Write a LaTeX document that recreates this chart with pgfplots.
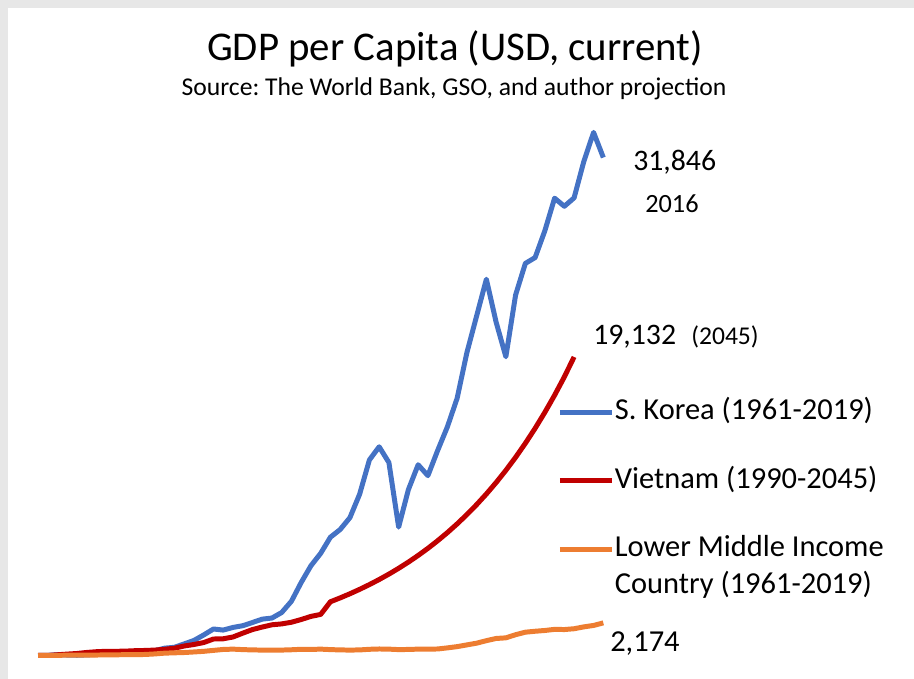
\documentclass[border=0pt]{standalone}
\usepackage{pgfplots}
\pgfplotsset{compat=1.18}
\usepackage{pgfplotstable}
\usepackage{fontspec}
\setmainfont{Carlito}
\frenchspacing
\definecolor{krblue}{HTML}{4472C4}
\definecolor{vnred}{HTML}{C00000}
\definecolor{lmorange}{HTML}{ED7D31}
\definecolor{framegrey}{HTML}{E7E7E7}

\pgfplotstableread{
year gdp
1961 94
1962 106
1963 146
1964 124
1965 109
1966 133
1967 161
1968 198
1969 243
1970 279
1971 301
1972 324
1973 406
1974 563
1975 617
1976 834
1977 1055
1978 1405
1979 1784
1980 1715
1981 1883
1982 1993
1983 2199
1984 2413
1985 2482
1986 2835
1987 3555
1988 4749
1989 5817
1990 6610
1991 7637
1992 8127
1993 8885
1994 10385
1995 12565
1996 13403
1997 12398
1998 8282
1999 10672
2000 12257
2001 11561
2002 13165
2003 14673
2004 16496
2005 19403
2006 21743
2007 24086
2008 21350
2009 19144
2010 23087
2011 25096
2012 25467
2013 27178
2014 29253
2015 28737
2016 29274
2017 31601
2018 33447
2019 31846
}\korea

\pgfplotstableread{
year gdp
1990 95
1991 98
1992 141
1993 184
1994 223
1995 288
1996 337
1997 361
1998 361
1999 374
2000 402
2001 416
2002 440
2003 492
2004 559
2005 700
2006 796
2007 920
2008 1145
2009 1160
2010 1273
2011 1517
2012 1749
2013 1908
2014 2052
2015 2109
2016 2215
2017 2389
2018 2587
2019 2715
2020 3521
2021 3767
2022 4031
2023 4313
2024 4615
2025 4938
2026 5284
2027 5654
2028 6050
2029 6473
2030 6926
2031 7411
2032 7930
2033 8485
2034 9079
2035 9714
2036 10394
2037 11122
2038 11900
2039 12733
2040 13625
2041 14579
2042 15599
2043 16691
2044 17860
2045 19132
}\vietnam

\pgfplotstableread{
year gdp
1961 95
1962 100
1963 105
1964 115
1965 120
1966 120
1967 125
1968 130
1969 140
1970 145
1971 150
1972 160
1973 195
1974 245
1975 265
1976 285
1977 320
1978 360
1979 420
1980 480
1981 500
1982 470
1983 450
1984 440
1985 430
1986 440
1987 460
1988 490
1989 480
1990 500
1991 470
1992 450
1993 440
1994 450
1995 490
1996 510
1997 500
1998 470
1999 480
2000 500
2001 500
2002 510
2003 580
2004 660
2005 770
2006 880
2007 1040
2008 1180
2009 1220
2010 1420
2011 1580
2012 1640
2013 1690
2014 1760
2015 1750
2016 1800
2017 1920
2018 2010
2019 2174
}\lmic

\begin{document}
\begin{tikzpicture}[x=0.01in,y=0.01in]
\path[use as bounding box] (0,0) rectangle (914,679);
\fill[framegrey] (0,671) rectangle (914,679);
\fill[framegrey] (0,0) rectangle (8,679);
\begin{axis}[
  at={(0.38in,0.22in)}, anchor=south west,
  scale only axis, width=5.65in, height=5.486in,
  xmin=0, xmax=58, ymin=0, ymax=35000,
  hide axis, clip=false,
  legend cell align=left,
  legend style={at={(0.9186,0.474)}, anchor=north west, draw=none, fill=none,
    inner sep=0pt, outer sep=0pt, row sep=27.5pt,
    font=\fontsize{22}{26.6}\selectfont,
    nodes={inner sep=0pt, text height=16.5pt, text depth=5.5pt},
    /tikz/every odd column/.append style={column sep=0pt}},
  legend image code/.code={\draw[#1] (0pt,0pt) -- (38pt,0pt);},
  every axis plot/.append style={line width=3.6pt, line join=round},
]
\addplot[krblue, no markers] table[x expr=\thisrow{year}-1961, y=gdp] {\korea};
\addlegendentry{S. Korea (1961-2019)}
\addplot[vnred, no markers] table[x expr=\thisrow{year}-1990, y=gdp] {\vietnam};
\addlegendentry{Vietnam (1990-2045)}
\addplot[lmorange, no markers] table[x expr=\thisrow{year}-1961, y=gdp] {\lmic};
\addlegendentry{\begin{tabular}[t]{@{}l@{}}Lower Middle Income\\Country (1961-2019)\end{tabular}}
\end{axis}
\node[anchor=base] at (455,618) {\fontsize{29.5}{34}\selectfont GDP per Capita (USD, current)};
\node[anchor=base] at (454,583) {\fontsize{18.5}{22}\selectfont Source: The World Bank, GSO, and author projection};
\node[anchor=base west, inner sep=0pt] at (633,508) {\fontsize{21.5}{26}\selectfont 31,846};
\node[anchor=base west, inner sep=0pt] at (645,466) {\fontsize{19}{22}\selectfont 2016};
\node[anchor=base west, inner sep=0pt] at (593,334) {\fontsize{21.5}{26}\selectfont 19,132};
\node[anchor=base west, inner sep=0pt] at (691,334) {\fontsize{18.5}{22}\selectfont (2045)};
\node[anchor=base west, inner sep=0pt] at (610,27) {\fontsize{22}{26}\selectfont 2,174};
\end{tikzpicture}
\end{document}
